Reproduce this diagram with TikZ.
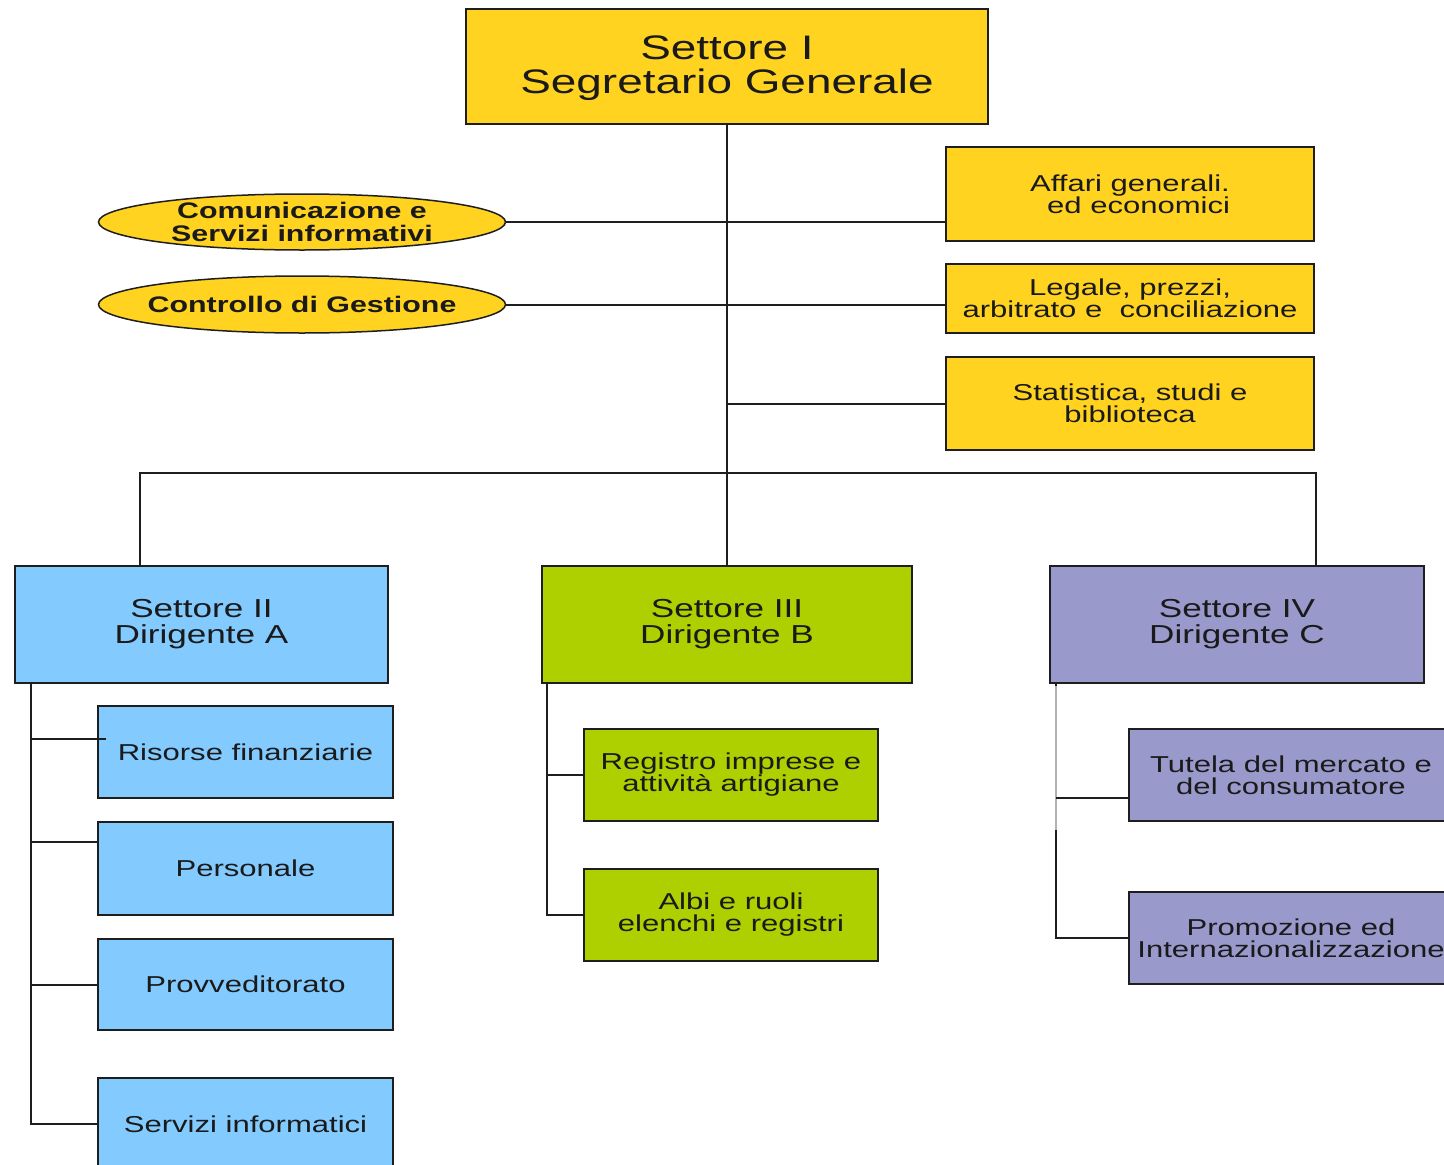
\documentclass[tikz,border=0pt]{standalone}
\usepackage{fontspec}
\setmainfont{Liberation Sans}[FakeStretch=1.35]
\usetikzlibrary{shapes.geometric,calc}

\definecolor{ocra}{HTML}{FFD320}
\definecolor{celeste}{HTML}{83CAFF}
\definecolor{verde}{HTML}{AECF00}
\definecolor{lilla}{HTML}{9999CC}
\definecolor{bordo}{HTML}{1E1E1E}
\definecolor{testo}{HTML}{1A1A1A}

\tikzset{
  unit/.style={draw=bordo, line width=2pt, rectangle, align=center, text=testo,
    inner sep=0pt, font=\fontsize{23}{22}\selectfont},
  headbox/.style={unit, fill=ocra, font=\fontsize{34}{33}\selectfont},
  sectorbox/.style={unit, font=\fontsize{26}{26}\selectfont},
  staffbox/.style={unit, fill=ocra},
  oval/.style={draw=bordo, line width=1.5pt, ellipse, fill=ocra, inner sep=0pt,
    minimum width=407pt},
  ovaltext/.style={align=center, text=testo, inner sep=0pt,
    font=\bfseries\fontsize{22.5}{23}\selectfont},
  bluebox/.style={unit, fill=celeste, minimum width=295pt},
  greenbox/.style={unit, fill=verde, minimum width=294pt, minimum height=92pt},
  lilacbox/.style={unit, fill=lilla, minimum width=324pt, minimum height=92pt},
  link/.style={draw=bordo, line width=2pt}
}

\begin{document}
\begin{tikzpicture}[x=1pt, y=-1pt]
  \clip (0,0) rectangle (1444,1165);
  \fill[white] (0,0) rectangle (1444,1165);

  % Segretario Generale
  \node[headbox, minimum width=522pt, minimum height=115pt] (top) at (727,66.5)
    {\raisebox{-3pt}[\height][\depth]{\begin{tabular}{@{}c@{}}Settore I\\Segretario Generale\end{tabular}}};

  % staff units on the right
  \node[staffbox, minimum width=368pt, minimum height=94pt] (affari) at (1130,194)
    {Affari generali.\\\ \ ed economici};
  \node[staffbox, minimum width=368pt, minimum height=69pt] (legale) at (1130,298.5)
    {Legale, prezzi,\\arbitrato e\ \ conciliazione};
  \node[staffbox, minimum width=368pt, minimum height=93pt] (stat) at (1130,403.5)
    {Statistica, studi e\\biblioteca};

  % staff offices on the left: oval outline, then its caption
  \node[oval, minimum height=56pt] (com) at (302,222) {};
  \node[ovaltext] (comtxt) at (com.center) {Comunicazione e\\Servizi informativi};
  \node[oval, minimum height=57pt] (ctrl) at (302,304.5) {};
  \node[ovaltext] (ctrltxt) at (ctrl.center) {Controllo di Gestione};

  % sectors
  \node[sectorbox, fill=celeste, minimum width=373pt, minimum height=117pt] (s2) at (201.5,624.5)
    {Settore II\\Dirigente A};
  \node[sectorbox, fill=verde, minimum width=370pt, minimum height=117pt] (s3) at (727,624.5)
    {Settore III\\Dirigente B};
  \node[sectorbox, fill=lilla, minimum width=374pt, minimum height=117pt] (s4) at (1237,624.5)
    {Settore IV\\Dirigente C};

  % Settore II offices
  \node[bluebox, minimum height=92pt] (ris) at (245.5,752) {Risorse finanziarie};
  \node[bluebox, minimum height=93pt] (pers) at (245.5,868.5) {Personale};
  \node[bluebox, minimum height=91pt] (prov) at (245.5,984.5) {Provveditorato};
  \node[bluebox, minimum height=92pt] (inf) at (245.5,1124) {Servizi informatici};

  % Settore III offices
  \node[greenbox] (reg) at (731,775) {Registro imprese e\\attività artigiane};
  \node[greenbox] (albi) at (731,915) {Albi e ruoli\\elenchi e registri};

  % Settore IV offices
  \node[lilacbox] (tut) at (1291,775) {Tutela del mercato e\\del consumatore};
  \node[lilacbox] (prom) at (1291,938) {Promozione ed\\Internazionalizzazione};

  % main trunk and bus
  \coordinate (busL) at (140,473);
  \coordinate (busR) at (1316,473);
  \draw[link] (top.south) -- (top.south |- s3.north);
  \draw[link] (busL |- s2.north) -- (busL) -- (busR) -- (busR |- s4.north);
  \draw[link] (com.east) -- (com.east -| affari.west);
  \draw[link] (ctrl.east) -- (ctrl.east -| legale.west);
  \draw[link] (top.south |- stat.west) -- (stat.west);

  % Settore II tree
  \coordinate (spA) at (31,0);
  \draw[link] (spA |- s2.south) -- (spA |- inf.west) -- (inf.west);
  \draw[link] (spA |- ris.175) -- ($(ris.175)+(9,0)$);
  \draw[link] (spA |- pers.170) -- (pers.170);
  \draw[link] (spA |- prov.west) -- (prov.west);

  % Settore III tree
  \coordinate (spB) at (547,0);
  \draw[link] (spB |- s3.south) -- (spB |- albi.west) -- (albi.west);
  \draw[link] (spB |- reg.west) -- (reg.west);

  % Settore IV tree
  \coordinate (spC) at (1056,0);
  \draw[link] (spC |- s4.south) -- (spC |- prom.west) -- (prom.west);
  \draw[draw=gray!60, line width=2.5pt] ($(spC |- s4.south)+(0,2)$) -- (spC |- 0,830);
  \draw[link] (spC |- tut.188) -- (tut.188);
\end{tikzpicture}
\end{document}
